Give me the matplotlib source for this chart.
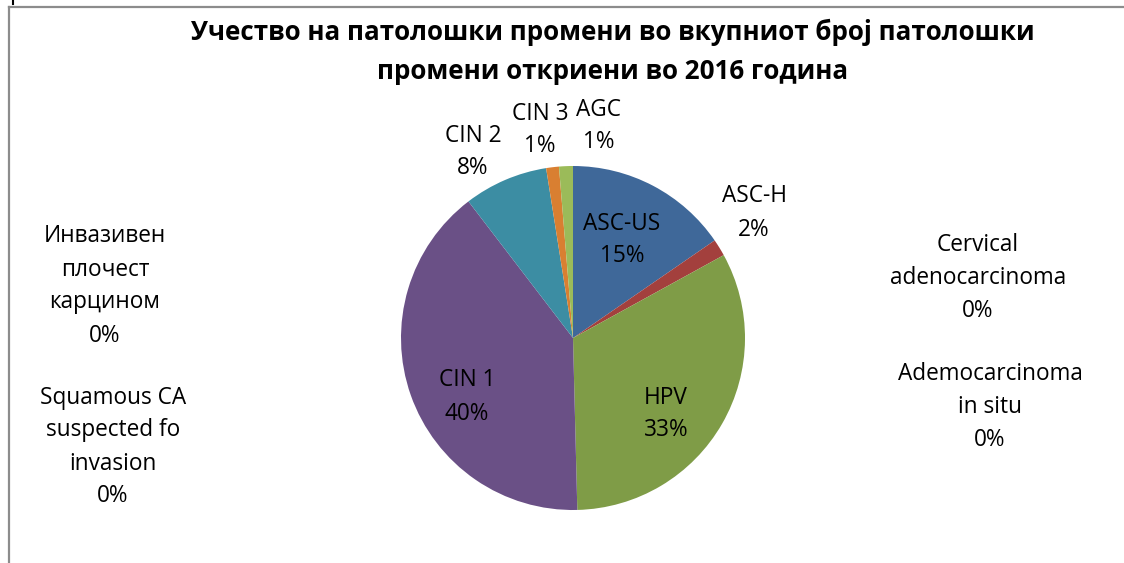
import matplotlib
matplotlib.use("Agg")
import matplotlib.pyplot as plt
from matplotlib.lines import Line2D

plt.rcParams['font.family'] = ['Open Sans', 'DejaVu Sans']

title = "Учество на патолошки промени во вкупниот број патолошки\nпромени откриени во 2016 година"

categories = ["ASC-US", "ASC-H", "Cervical\nadenocarcinoma", "Ademocarcinoma\nin situ", "HPV",
              "CIN 1", "Squamous CA\nsuspected fo\ninvasion", "Инвазивен\nплочест\nкарцином",
              "CIN 2", "CIN 3", "AGC"]
values = [15.4, 1.6, 0.0, 0.0, 32.6, 40.0, 0.0, 0.0, 7.9, 1.2, 1.3]
pct_labels = ["15%", "2%", "0%", "0%", "33%", "40%", "0%", "0%", "8%", "1%", "1%"]
colors = ["#3F6899", "#A3403D", "#C0504D", "#4F81BD", "#7F9C47", "#6A5086",
          "#8064A2", "#4BACC6", "#3C8DA3", "#D97F31", "#9BBB59"]

# label anchor positions (image pixel coords, x, y from top)
label_pos = [(622, 240), (754, 213), (978, 278), (990, 407), (666, 414),
             (467, 397), (113, 447), (105, 286), (473, 152), (540, 130), (599, 126)]

W, H = 1124, 563
fig = plt.figure(figsize=(W / 100, H / 100), dpi=100)
ax = fig.add_axes([0, 0, 1, 1])

ax.pie(values, colors=colors, startangle=90, counterclock=False,
       center=(573, H - 338), radius=172, frame=True,
       wedgeprops=dict(linewidth=0))
ax.set_xlim(0, W)
ax.set_ylim(0, H)
ax.set_aspect('equal')
ax.axis('off')

for cat, pct, (x, y) in zip(categories, pct_labels, label_pos):
    ax.text(x, H - y, f"{cat}\n{pct}", ha='center', va='center', fontsize=16.3,
            linespacing=1.5, color='black')

fig.text(613 / W, 1 - 52 / H, title, ha='center', va='center', fontsize=18.7,
         fontweight='bold', linespacing=1.58)

# chart area frame (partially visible)
fig.add_artist(Line2D([8.5 / W, 8.5 / W], [0, 1 - 7 / H], transform=fig.transFigure,
                      color='#8C8C8C', linewidth=1.6))
fig.add_artist(Line2D([8.5 / W, 1], [1 - 7 / H, 1 - 7 / H], transform=fig.transFigure,
                      color='#8C8C8C', linewidth=1.6))
fig.add_artist(Line2D([13 / W, 13 / W], [1, 1 - 4 / H], transform=fig.transFigure,
                      color='black', linewidth=1.5))

fig.savefig("out.png", dpi=100, facecolor='white')
